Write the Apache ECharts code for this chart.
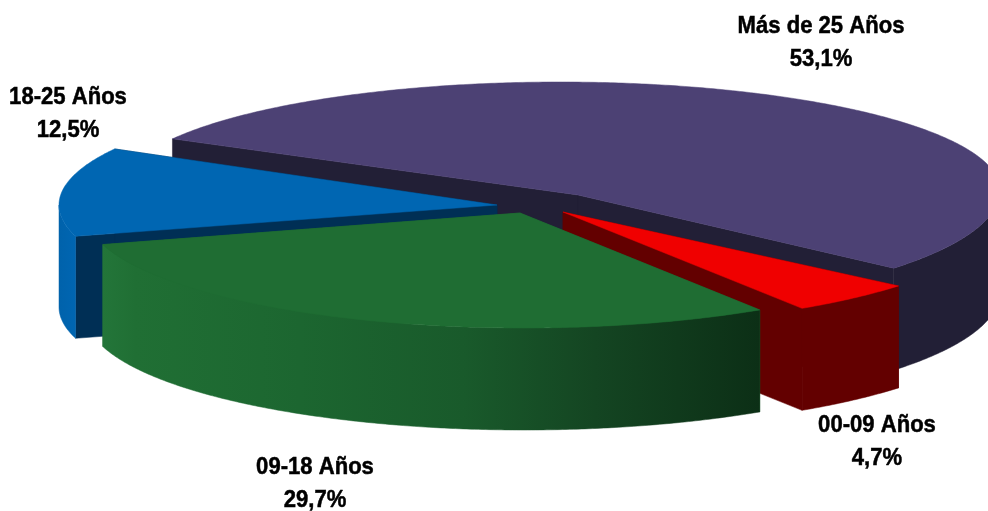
<!DOCTYPE html>
<html><head><meta charset="utf-8">
<style>html,body{margin:0;padding:0;background:#fff}#c{width:988px;height:511px}</style>
<script src="https://cdn.jsdelivr.net/npm/echarts@6/dist/echarts.min.js"></script>
</head><body><div id="c"></div>
<script>
// Data, in painter's order (back to front)
var categories = ['Más de 25 Años', '18-25 Años', '00-09 Años', '09-18 Años'];
var shares = [53.1, 12.5, 4.7, 29.7];

// Layout and style only
var startAngles = [209.2, 164.2, 40, 57];
var apexes = [[578, 195], [497, 205], [563, 212], [520, 213]];
var ellipseCentres = [[560, 190], [497, 205], [563, 212], [524, 213]];
// [rx, ry above the centre, ry below the centre]
var radii = [[440, 108, 120], [438, 115, 115], [438, 115, 115], [438, 115, 115]];
var labelCentres = [[821, 43], [68, 114], [877, 442], [315, 484]];
var topColours = ['#4c4174', '#0066b2', '#f00000', '#1f6d33'];
var cutColours = ['#221f36', '#002f55', '#630000', '#206d33'];
var wallStops = [
  [[0, '#221f36'], [1, '#221f36']],
  [[0, '#0062ab'], [1, '#0066b2']],
  [[0, '#630000'], [1, '#630000']],
  [[0, '#237539'], [0.05, '#206f34'], [0.3, '#1c6630'], [0.55, '#195a2b'], [0.75, '#144522'], [1, '#0c2f16']]
];
var depth = 102;
var total = shares.reduce(function (a, b) { return a + b; }, 0);

function rimPoint(i, deg, dy) {
  var t = deg * Math.PI / 180, c = ellipseCentres[i], r = radii[i], a = apexes[i];
  var ax = (a[0] - c[0]) / r[0];
  var ay = (a[1] - c[1]) / (a[1] < c[1] ? r[1] : r[2]);
  var dx = Math.cos(t), dyy = Math.sin(t);
  var b = ax * dx + ay * dyy, cc = ax * ax + ay * ay - 1;
  var s = -b + Math.sqrt(b * b - cc);
  var u = ax + s * dx, v = ay + s * dyy;
  return [c[0] + r[0] * u, c[1] + (v < 0 ? r[1] : r[2]) * v + dy];
}
function rimPoints(i, from, to, dy) {
  var pts = [], n = Math.max(2, Math.ceil((to - from) * 2));
  for (var k = 0; k <= n; k++) pts.push(rimPoint(i, from + (to - from) * k / n, dy));
  return pts;
}
function poly(points, fill) {
  return { type: 'polygon', shape: { points: points },
    style: { fill: fill, stroke: fill, lineWidth: 0.5 }, silent: true };
}
function renderItem(params, api) {
  var i = params.dataIndex;
  var value = api.value(0);
  var from = startAngles[i], to = from + value / total * 360;
  var apex = apexes[i], kids = [];
  var apexLow = [apex[0], apex[1] + depth];

  // Cut faces
  [from, to].forEach(function (a) {
    var p = rimPoint(i, a, 0), q = rimPoint(i, a, depth);
    kids.push(poly([apex, p, q, apexLow], cutColours[i]));
  });
  // Outer wall: only the part of the rim facing the viewer
  [0, 360].forEach(function (k) {
    var lo = Math.max(from, k), hi = Math.min(to, k + 180);
    if (hi > lo) {
      var up = rimPoints(i, lo, hi, 0), down = rimPoints(i, lo, hi, depth).reverse();
      kids.push(poly(up.concat(down), new echarts.graphic.LinearGradient(0, 0, 1, 0,
        wallStops[i].map(function (s) { return { offset: s[0], color: s[1] }; }))));
    }
  });
  // Top surface
  kids.push(poly([apex].concat(rimPoints(i, from, to, 0)), topColours[i]));
  return { type: 'group', children: kids };
}
function renderLabels(params, api) {
  var i = params.dataIndex;
  var text = categories[i] + '\n' + api.value(0).toFixed(1).replace('.', ',') + '%';
  return { type: 'text', silent: true,
    x: labelCentres[i][0], y: labelCentres[i][1], scaleX: 0.92,
    style: { x: 0, y: 0, text: text, align: 'center', verticalAlign: 'middle',
      fill: '#000', stroke: '#000', lineWidth: 0.5,
      font: 'bold 24px "Liberation Sans", Arial, sans-serif', lineHeight: 33 } };
}
var chart = echarts.init(document.getElementById('c'), null, { renderer: 'canvas' });
chart.setOption({
  animation: false,
  backgroundColor: '#fff',
  series: [
    { type: 'custom', coordinateSystem: 'none', renderItem: renderItem, silent: true,
      data: shares.map(function (v) { return [v]; }), z: 1 },
    { type: 'custom', coordinateSystem: 'none', renderItem: renderLabels, silent: true,
      data: shares.map(function (v) { return [v]; }), z: 2 }
  ]
});
</script></body></html>
